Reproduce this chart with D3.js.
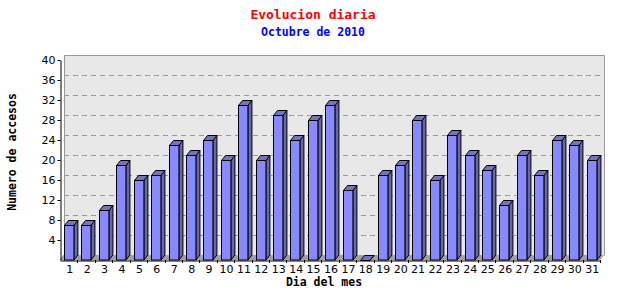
<!DOCTYPE html>
<html>
<head>
<meta charset="utf-8">
<script src="https://cdn.jsdelivr.net/npm/d3@7"></script>
<style>
    body { margin: 0; background: #fff; }
    .tick text { font-family: "DejaVu Sans", sans-serif; font-size: 11px; fill: #000; }
    .ttl { font-family: "DejaVu Sans Mono", monospace; font-weight: bold; }
</style>
</head>
<body>
<div id="my_dataviz"><svg></svg></div>
<script>
var days = ["1", "2", "3", "4", "5", "6", "7", "8", "9", "10", "11", "12", "13", "14", "15", "16",
    "17", "18", "19", "20", "21", "22", "23", "24", "25", "26", "27", "28", "29", "30", "31"];
var accesos = [7, 7, 10, 19, 16, 17, 23, 21, 24, 20, 31, 20, 29, 24, 28, 31,
    14, 0, 17, 19, 28, 16, 25, 21, 18, 11, 21, 17, 24, 23, 20];
var yTicks = [4, 8, 12, 16, 20, 24, 28, 32, 36, 40];

var width = 640, height = 300;
var plotLeft = 60, plotRight = 600, plotTop = 60, plotBottom = 260;
var dx = 4, dy = 5; // 3d depth

var svg = d3.select("#my_dataviz").select("svg")
    .attr("width", width)
    .attr("height", height);

var xAxis = d3.scaleBand()
    .domain(days)
    .range([plotLeft, plotRight])
    .padding(0);

var yAxis = d3.scaleLinear()
    .domain([0, 40])
    .range([plotBottom, plotTop]);

/* back wall */
svg.append("rect")
    .attr("x", plotLeft + dx)
    .attr("y", plotTop - dy)
    .attr("width", plotRight - plotLeft)
    .attr("height", plotBottom - plotTop)
    .attr("fill", "#e8e8e8");

svg.append("path")
    .attr("d", "M" + (plotLeft + dx) + "," + (plotBottom - dy) + "V" + (plotTop - dy) + "H" + (plotRight + dx) + "V" + (plotBottom - dy))
    .attr("fill", "none")
    .attr("stroke", "#999")
    .attr("stroke-width", 1)
    .attr("transform", "translate(0.5,0.5)");

/* grid lines on back wall */
svg.append("g")
    .selectAll("line")
    .data(yTicks.filter(function (d) { return d < 40; }))
    .enter()
    .append("line")
    .attr("x1", plotLeft + dx)
    .attr("x2", plotRight + dx)
    .attr("y1", function (d) { return Math.round(yAxis(d) - dy) + 0.5; })
    .attr("y2", function (d) { return Math.round(yAxis(d) - dy) + 0.5; })
    .attr("stroke", "#999")
    .attr("stroke-dasharray", "5,4");

/* floor */
svg.append("polygon")
    .attr("points", [[plotLeft, plotBottom], [plotRight, plotBottom], [plotRight + dx, plotBottom - dy], [plotLeft + dx, plotBottom - dy]].join(" "))
    .attr("fill", "#a0a0a0");

svg.append("line")
    .attr("x1", plotLeft).attr("y1", plotBottom)
    .attr("x2", plotLeft + dx).attr("y2", plotBottom - dy)
    .attr("stroke", "#999");

/* bars */
var bw = xAxis.bandwidth() - 4 - dx;
var bars = svg.append("g")
    .selectAll("g")
    .data(days)
    .enter()
    .append("g");

function bx(d) { return Math.round(xAxis(d) + 4) + 0.5; }
function by(d, i) { return Math.round(yAxis(accesos[i])) + 0.5; }

bars.append("polygon") // side
    .attr("points", function (d, i) {
        var x = bx(d) + bw, y = by(d, i);
        return [[x, y], [x + dx, y - dy], [x + dx, plotBottom - dy], [x, plotBottom]].join(" ");
    })
    .attr("fill", "#6868a8")
    .attr("stroke", "#000")
    .attr("stroke-linejoin", "round");

bars.append("polygon") // top
    .attr("points", function (d, i) {
        var x = bx(d), y = by(d, i);
        return [[x, y], [x + dx, y - dy], [x + bw + dx, y - dy], [x + bw, y]].join(" ");
    })
    .attr("fill", "#7474b8")
    .attr("stroke", "#000")
    .attr("stroke-linejoin", "round");

bars.append("rect") // front
    .attr("x", function (d) { return bx(d); })
    .attr("y", function (d, i) { return by(d, i); })
    .attr("width", bw)
    .attr("height", function (d, i) { return plotBottom - by(d, i); })
    .attr("fill", "#8888ff")
    .attr("stroke", "#000");

/* axes */
svg.append("g")
    .attr("transform", "translate(" + (plotLeft + 0.5) + ",0)")
    .call(d3.axisLeft(yAxis).tickValues(yTicks).tickSize(3).tickPadding(2).tickSizeOuter(0))
    .call(function (g) {
        g.select(".domain").attr("stroke", "#000");
        g.selectAll(".tick text").attr("dy", "0.35em");
    });

svg.append("g")
    .attr("transform", "translate(0," + (plotBottom + 0.5) + ")")
    .call(d3.axisBottom(xAxis).tickSize(0).tickPadding(5).tickSizeOuter(0))
    .call(function (g) {
        g.select(".domain").attr("stroke", "#000");
        g.selectAll(".tick text").attr("dx", "1");
    });

svg.append("g")
    .selectAll("line")
    .data(days)
    .enter()
    .append("line")
    .attr("x1", function (d) { return Math.round(xAxis(d) + xAxis.bandwidth()) + 0.5; })
    .attr("x2", function (d) { return Math.round(xAxis(d) + xAxis.bandwidth()) + 0.5; })
    .attr("y1", plotBottom)
    .attr("y2", plotBottom + 3)
    .attr("stroke", "#000");

/* titles */
svg.append("text")
    .attr("class", "ttl")
    .attr("x", 313)
    .attr("y", 19)
    .attr("text-anchor", "middle")
    .attr("font-size", "13px")
    .attr("fill", "#ff0000")
    .text("Evolucion diaria");

svg.append("text")
    .attr("class", "ttl")
    .attr("x", 313)
    .attr("y", 36)
    .attr("text-anchor", "middle")
    .attr("font-size", "11.5px")
    .attr("fill", "#0000ff")
    .text("Octubre de 2010");

svg.append("text")
    .attr("class", "ttl")
    .attr("transform", "translate(16,152) rotate(-90)")
    .attr("text-anchor", "middle")
    .attr("font-size", "11.5px")
    .attr("fill", "#000")
    .text("Numero de accesos");

svg.append("text")
    .attr("class", "ttl")
    .attr("x", 324)
    .attr("y", 286)
    .attr("text-anchor", "middle")
    .attr("font-size", "11.5px")
    .attr("fill", "#000")
    .text("Dia del mes");
</script>
</body>
</html>
